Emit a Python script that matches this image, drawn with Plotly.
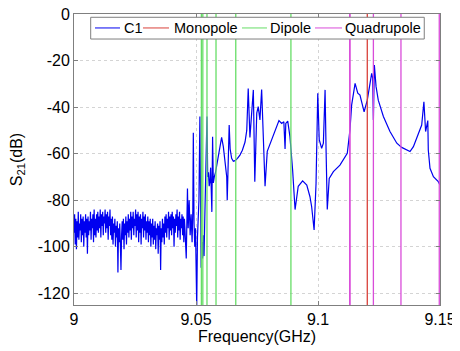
"""S21 transmission sweep with the computed mode frequencies marked as vertical lines"""
import plotly.graph_objects as go

# measured sweep, noisy floor below the first resonance
noise_ghz = [
    9.00000, 9.00025, 9.00050, 9.00075, 9.00100, 9.00125, 9.00150, 9.00175, 9.00200, 9.00225,
    9.00250, 9.00275, 9.00300, 9.00325, 9.00350, 9.00375, 9.00400, 9.00425, 9.00450, 9.00475,
    9.00500, 9.00525, 9.00550, 9.00575, 9.00600, 9.00625, 9.00650, 9.00675, 9.00700, 9.00725,
    9.00750, 9.00775, 9.00800, 9.00825, 9.00850, 9.00875, 9.00900, 9.00925, 9.00950, 9.00975,
    9.01000, 9.01025, 9.01050, 9.01075, 9.01100, 9.01125, 9.01150, 9.01175, 9.01200, 9.01225,
    9.01250, 9.01275, 9.01300, 9.01325, 9.01350, 9.01375, 9.01400, 9.01425, 9.01450, 9.01475,
    9.01500, 9.01525, 9.01550, 9.01575, 9.01600, 9.01625, 9.01650, 9.01675, 9.01700, 9.01725,
    9.01750, 9.01775, 9.01800, 9.01825, 9.01850, 9.01875, 9.01900, 9.01925, 9.01950, 9.01975,
    9.02000, 9.02025, 9.02050, 9.02075, 9.02100, 9.02125, 9.02150, 9.02175, 9.02200, 9.02225,
    9.02250, 9.02275, 9.02300, 9.02325, 9.02350, 9.02375, 9.02400, 9.02425, 9.02450, 9.02475,
    9.02500, 9.02525, 9.02550, 9.02575, 9.02600, 9.02625, 9.02650, 9.02675, 9.02700, 9.02725,
    9.02750, 9.02775, 9.02800, 9.02825, 9.02850, 9.02875, 9.02900, 9.02925, 9.02950, 9.02975,
    9.03000, 9.03025, 9.03050, 9.03075, 9.03100, 9.03125, 9.03150, 9.03175, 9.03200, 9.03225,
    9.03250, 9.03275, 9.03300, 9.03325, 9.03350, 9.03375, 9.03400, 9.03425, 9.03450, 9.03475,
    9.03500, 9.03525, 9.03550, 9.03575, 9.03600, 9.03625, 9.03650, 9.03675, 9.03700, 9.03725,
    9.03750, 9.03775, 9.03800, 9.03825, 9.03850, 9.03875, 9.03900, 9.03925, 9.03950, 9.03975,
    9.04000, 9.04025, 9.04050, 9.04075, 9.04100, 9.04125, 9.04150, 9.04175, 9.04200, 9.04225,
    9.04250, 9.04275, 9.04300, 9.04325, 9.04350, 9.04375, 9.04400, 9.04425, 9.04450, 9.04475,
    9.04500, 9.04525, 9.04550,
]
noise_db = [
    -94, -86, -99, -88, -101, -89, -96, -85, -97, -90,
    -93, -86, -98, -88, -95, -87, -100, -89, -94, -86,
    -96, -88, -103, -87, -95, -89, -93, -85, -97, -88,
    -92, -86, -98, -84, -95, -88, -96, -86, -93, -85,
    -94, -87, -92, -84, -96, -86, -91, -85, -95, -87,
    -90, -84, -94, -86, -92, -85, -97, -87, -91, -84,
    -95, -88, -97, -87, -99, -90, -94, -88, -100, -91,
    -96, -89, -111, -92, -98, -90, -99, -110, -95, -89,
    -97, -88, -101, -90, -95, -87, -99, -89, -94, -86,
    -96, -88, -93, -85, -97, -87, -92, -85, -95, -88,
    -91, -84, -96, -86, -93, -85, -98, -87, -94, -86,
    -99, -88, -92, -85, -96, -87, -93, -86, -97, -89,
    -94, -87, -98, -89, -95, -88, -100, -90, -96, -88,
    -99, -91, -97, -89, -101, -92, -95, -90, -103, -91,
    -97, -89, -110, -92, -98, -88, -96, -90, -99, -87,
    -94, -86, -96, -88, -92, -85, -97, -87, -93, -86,
    -95, -85, -92, -87, -100, -88, -94, -86, -91, -84,
    -96, -87, -93, -85, -97, -88, -92, -86, -95, -87,
    -98, -88, -93,
]

# resonance region
mode_ghz = [
    9.0460, 9.0465, 9.0468, 9.0472, 9.0476, 9.0480, 9.0484, 9.0487, 9.0489, 9.0492,
    9.0495, 9.0498, 9.0501, 9.0503, 9.0506, 9.0509, 9.0512, 9.0516, 9.0519, 9.0521,
    9.0524, 9.0527, 9.0530, 9.0533, 9.0536, 9.0539, 9.0542, 9.0545, 9.0548, 9.0551,
    9.0554, 9.0557, 9.0560, 9.0563, 9.0565, 9.0568, 9.0571, 9.0575, 9.0580, 9.0590,
    9.0600, 9.0605, 9.0612, 9.0620, 9.0626, 9.0628, 9.0632, 9.0636, 9.0640, 9.0646,
    9.0653, 9.0660, 9.0670, 9.0680, 9.0690, 9.0701, 9.0708, 9.0714, 9.0721, 9.0735,
    9.0741, 9.0749, 9.0755, 9.0762, 9.0769, 9.0776, 9.0783, 9.0792, 9.0817, 9.0840,
    9.0851, 9.0860, 9.0865, 9.0868, 9.0876, 9.0885, 9.0896, 9.0906, 9.0919, 9.0937,
    9.0954, 9.0967, 9.0974, 9.0984, 9.0992, 9.0999, 9.1005, 9.1015, 9.1022, 9.1029,
    9.1033, 9.1038, 9.1046, 9.1063, 9.1090, 9.1120, 9.1131, 9.1138, 9.1152, 9.1163,
    9.1172, 9.1189, 9.1202, 9.1220, 9.1224, 9.1227, 9.1231, 9.1238, 9.1247, 9.1268,
    9.1295, 9.1323, 9.1343, 9.1377, 9.1391, 9.1411, 9.1425, 9.1434, 9.1441, 9.1450,
    9.1452, 9.1459, 9.1473, 9.1493, 9.1500,
]
mode_db = [
    -105, -75, -92, -80, -95, -86, -98, -84, -51, -90,
    -100, -92, -110, -126, -96, -88, -80, -44, -90, -109,
    -98, -105, -95, -104, -88, -75, -66, -44, -70, -68,
    -74, -72, -66, -80, -85, -52.7, -72.6, -70, -68, -62,
    -55, -53, -57, -65, -70, -80, -60, -47.7, -58, -62,
    -63.3, -63, -62, -60.6, -58.5, -55, -50, -32, -53, -32.6,
    -72, -42.6, -39.8, -45.5, -32.4, -50, -74, -59, -52, -45.8,
    -47, -46.3, -58, -47, -46, -52.7, -67, -84, -74, -71.7,
    -73.5, -78.5, -82.8, -92.8, -72.7, -34, -54, -57.7, -55.5, -32.6,
    -58, -84, -70.6, -67.7, -64.9, -59.8, -49.8, -39, -29.8, -34,
    -34.8, -42, -37, -25.5, -27.5, -45.5, -21.9, -31.2, -37, -44,
    -50.5, -55.5, -57.3, -59.1, -57, -52, -47.7, -37.7, -50.5, -45.8,
    -58.4, -66.3, -69.9, -72, -73.5,
]

# simulated mode frequencies (GHz)
monopole_ghz = [9.1202]
dipole_ghz = [9.0522, 9.0528, 9.0545, 9.0582, 9.0663, 9.0889]
quadrupole_ghz = [9.1130, 9.1131, 9.1227, 9.1340, 9.1497]

x_ticks = [9, 9.05, 9.1, 9.15]
x_tick_text = ["9", "9.05", "9.1", "9.15"]
y_ticks = [0, -20, -40, -60, -80, -100, -120]
y_tick_text = ["0", "-20", "-40", "-60", "-80", "-100", "-120"]
y_lo, y_hi = -125, 0

FONT = "Arial, Liberation Sans, sans-serif"
C1_COLOUR = "#0000f0"
MONO_COLOUR = "#d9403a"
DIP_COLOUR = "#66dd66"
QUAD_COLOUR = "#d94cd9"


def marker_lines(freqs):
    xs, ys = [], []
    for f in freqs:
        xs += [f, f, None]
        ys += [y_lo, y_hi, None]
    return xs, ys


fig = go.Figure()
fig.add_trace(go.Scatter(
    x = noise_ghz + mode_ghz,
    y = noise_db + mode_db,
    mode = "lines",
    name = "C1",
    line = dict(color = C1_COLOUR, width = 1.2),
    showlegend = False,
))

for name, freqs, colour in [
    ("Monopole", monopole_ghz, MONO_COLOUR),
    ("Dipole", dipole_ghz, DIP_COLOUR),
    ("Quadrupole", quadrupole_ghz, QUAD_COLOUR),
]:
    xs, ys = marker_lines(freqs)
    fig.add_trace(go.Scatter(
        x = xs, y = ys, mode = "lines", name = name,
        line = dict(color = colour, width = 1.3),
        showlegend = False,
    ))

axis_style = dict(
    showline = True,
    linecolor = "#7f7f7f",
    linewidth = 1,
    mirror = "ticks",
    ticks = "inside",
    ticklen = 4,
    tickcolor = "#7f7f7f",
    showgrid = True,
    gridcolor = "#d4d4d4",
    griddash = "dot",
    gridwidth = 1,
    zeroline = False,
    automargin = False,
    ticklabeloverflow = "allow",
    tickfont = dict(size = 16, color = "black", family = FONT),
)

fig.update_xaxes(
    range = [9, 9.15],
    tickvals = x_ticks,
    ticktext = x_tick_text,
    title = dict(text = "Frequency(GHz)", font = dict(size = 16), standoff = 2),
    **axis_style,
)
fig.update_yaxes(
    range = [y_lo, y_hi],
    tickvals = y_ticks,
    ticktext = y_tick_text,
    title = dict(text = "S<sub>21</sub>(dB)", font = dict(size = 16), standoff = 12),
    **axis_style,
)

# MATLAB-style legend box across the top of the axes
legend_entries = [
    ("C1", C1_COLOUR, 0.0574, 0.1257, 0.1311),
    ("Monopole", MONO_COLOUR, 0.1885, 0.2596, 0.2678),
    ("Dipole", DIP_COLOUR, 0.4590, 0.5273, 0.5300),
    ("Quadrupole", QUAD_COLOUR, 0.6585, 0.7322, 0.7350),
]
legend_y = 0.952
fig.add_shape(
    type = "rect", xref = "paper", yref = "paper",
    x0 = 0.0456, x1 = 0.957, y0 = 0.914, y1 = 0.9887,
    fillcolor = "white", line = dict(color = "#7f7f7f", width = 1),
    layer = "above",
)
for label, colour, lx0, lx1, tx in legend_entries:
    fig.add_shape(
        type = "line", xref = "paper", yref = "paper",
        x0 = lx0, x1 = lx1, y0 = legend_y, y1 = legend_y,
        line = dict(color = colour, width = 1),
        layer = "above",
    )
    fig.add_annotation(
        text = label, xref = "paper", yref = "paper",
        x = tx, y = legend_y, xanchor = "left", yanchor = "middle",
        showarrow = False, font = dict(size = 14.5, color = "black", family = FONT),
    )

# the page body adds an 8px offset, so the figure is a little smaller than the window
fig.update_layout(
    width = 452,
    height = 343,
    margin = dict(l = 66, r = 20, t = 6, b = 46),
    paper_bgcolor = "white",
    plot_bgcolor = "white",
    font = dict(family = FONT, size = 16, color = "black"),
    showlegend = False,
)

fig.write_html("out.html")
